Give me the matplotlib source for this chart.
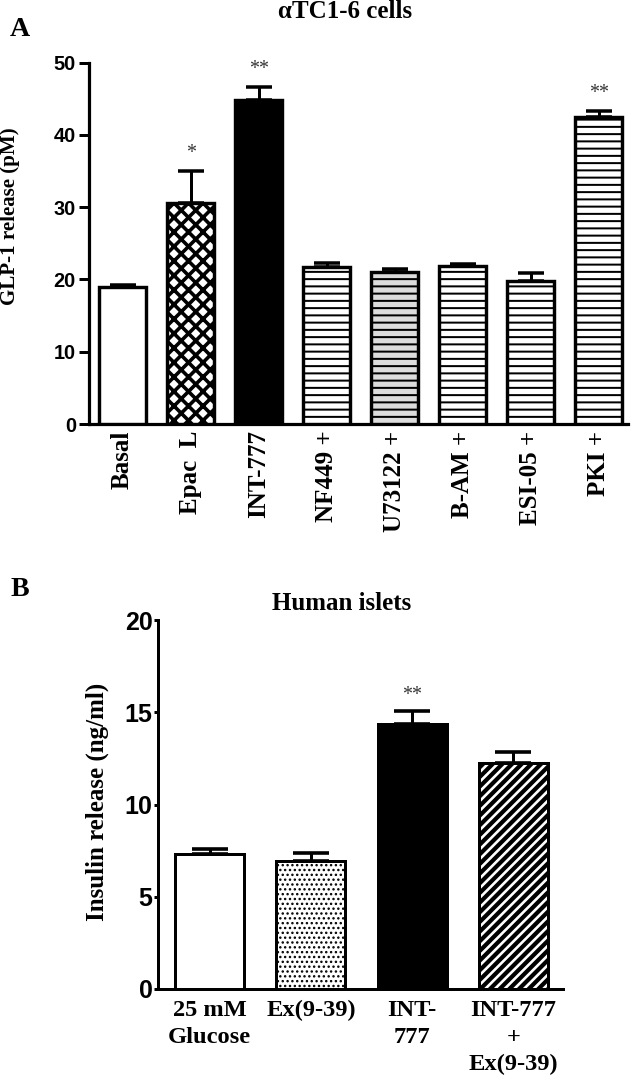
import matplotlib
matplotlib.use("Agg")
import matplotlib.pyplot as plt
import numpy as np

# panel A - alphaTC1-6 cells
a_labels = ["Basal", "Epac  L", "INT-777", "NF449 +", "U73122 +", "B-AM +", "ESI-05 +", "PKI +"]
a_mean = [19.0, 30.6, 44.8, 21.7, 21.0, 21.8, 19.8, 42.5]
a_sem = [0.3, 4.4, 1.8, 0.6, 0.5, 0.4, 1.1, 0.8]
a_stars = ["", "*", "**", "", "", "", "", "**"]

# panel B - human islets
b_labels = ["25 mM\nGlucose", "Ex(9-39)", "INT-\n777", "INT-777\n+\nEx(9-39)"]
b_mean = [7.3, 6.95, 14.35, 12.25]
b_sem = [0.27, 0.42, 0.72, 0.6]
b_stars = ["", "", "**", ""]

SERIF = "Liberation Serif"
SANS = "Liberation Sans"

# hatch unit cell = 1 inch, so dpi picked to get the hatch spacings of the figure
DPI = 174
W, H = 633, 1091

def pt(px):
    # pixel size -> points
    return px * 72.0 / DPI

fig = plt.figure(figsize=(W / DPI, H / DPI), dpi=DPI)

def px_axes(l, t, r, b):
    return fig.add_axes([l / W, 1 - b / H, (r - l) / W, (b - t) / H])

def style_bar(p, face, hatch=None, hlw=1.0, lw=3.0):
    p.set_facecolor(face)
    p.set_edgecolor("black")
    p.set_linewidth(pt(lw))
    if hatch:
        p.set_hatch(hatch)
        if hasattr(p, "set_hatch_linewidth"):
            p.set_hatch_linewidth(pt(hlw))

# ---------------- panel A ----------------
axA = px_axes(89, 62.7, 628, 424)
xa = np.arange(len(a_mean))
barsA = axA.bar(xa, a_mean, width=0.69, zorder=3)
a_styles = [("white", None, 1), ("white", "xxxx", 3.6), ("black", None, 1),
            ("white", "----", 2.0), ("#dcdcdc", "----", 2.0), ("white", "----", 2.0),
            ("white", "----", 2.0), ("white", "----", 2.0)]
for p, (fc, h, hl) in zip(barsA, a_styles):
    style_bar(p, fc, h, hl, lw=3.4)
axA.errorbar(xa, a_mean, yerr=[np.zeros(len(a_sem)), a_sem], fmt="none", ecolor="black",
             elinewidth=pt(3), capsize=pt(13), capthick=pt(3.5), zorder=2)
for x, m, e, s in zip(xa, a_mean, a_sem, a_stars):
    if s:
        axA.text(x, m + e + 1.1, s, ha="center", va="bottom", fontsize=pt(20),
                 family=SERIF, color="#333333")
axA.set_xlim(-0.493, 7.43)
axA.set_ylim(0, 50)
axA.set_yticks([0, 10, 20, 30, 40, 50])
axA.set_xticks(xa)
axA.set_xticklabels(a_labels, rotation=90, ha="center", va="top",
                    family=SERIF, fontweight="bold", fontsize=pt(25))
for lab in axA.get_yticklabels():
    lab.set_family(SANS)
    lab.set_fontweight("bold")
    lab.set_fontsize(pt(20))
axA.tick_params(axis="y", length=pt(10), width=pt(3), pad=pt(3))
axA.tick_params(axis="x", length=0, pad=pt(6.5))
for sp in ["top", "right"]:
    axA.spines[sp].set_visible(False)
for sp in ["left", "bottom"]:
    axA.spines[sp].set_linewidth(pt(3.2))

fig.text(10 / W, 1 - 216 / H, "GLP-1 release (pM)", rotation=90, ha="center", va="center",
         family=SERIF, fontweight="bold", fontsize=pt(21))
fig.text(345 / W, 1 - 11 / H, "αTC1-6 cells", ha="center", va="center",
         family=SERIF, fontweight="bold", fontsize=pt(25))
fig.text(20 / W, 1 - 29 / H, "A", ha="center", va="center",
         family=SERIF, fontweight="bold", fontsize=pt(28))

# ---------------- panel B ----------------
axB = px_axes(158, 620, 563, 989)
xb = np.arange(len(b_mean))
barsB = axB.bar(xb, b_mean, width=0.68, zorder=3)
b_styles = [("white", None, 1), ("white", "." * 6, 1.5), ("black", None, 1),
            ("white", "//////", 4.2)]
for p, (fc, h, hl) in zip(barsB, b_styles):
    style_bar(p, fc, h, hl, lw=3.0)
axB.errorbar(xb, b_mean, yerr=[np.zeros(len(b_sem)), b_sem], fmt="none", ecolor="black",
             elinewidth=pt(3), capsize=pt(18), capthick=pt(3.6), zorder=2)
for x, m, e, s in zip(xb, b_mean, b_sem, b_stars):
    if s:
        axB.text(x, m + e + 0.3, s, ha="center", va="bottom", fontsize=pt(20),
                 family=SERIF, color="#333333")
axB.set_xlim(-0.51, 3.49)
axB.set_ylim(0, 20)
axB.set_yticks([0, 5, 10, 15, 20])
axB.set_xticks(xb)
axB.set_xticklabels(b_labels, ha="center", va="top", linespacing=1.36,
                    family=SERIF, fontweight="bold", fontsize=pt(24.5))
for lab in axB.get_yticklabels():
    lab.set_family(SANS)
    lab.set_fontweight("bold")
    lab.set_fontsize(pt(25))
axB.tick_params(axis="y", length=pt(4), width=pt(3), pad=pt(1.5))
axB.tick_params(axis="x", length=0, pad=pt(11))
for sp in ["top", "right"]:
    axB.spines[sp].set_visible(False)
for sp in ["left", "bottom"]:
    axB.spines[sp].set_linewidth(pt(3))

fig.text(97 / W, 1 - 802 / H, "Insulin release (ng/ml)", rotation=90, ha="center", va="center",
         family=SERIF, fontweight="bold", fontsize=pt(25))
fig.text(342 / W, 1 - 604 / H, "Human islets", ha="center", va="center",
         family=SERIF, fontweight="bold", fontsize=pt(25))
fig.text(20 / W, 1 - 589 / H, "B", ha="center", va="center",
         family=SERIF, fontweight="bold", fontsize=pt(28))

fig.savefig("out.png", dpi=DPI)
